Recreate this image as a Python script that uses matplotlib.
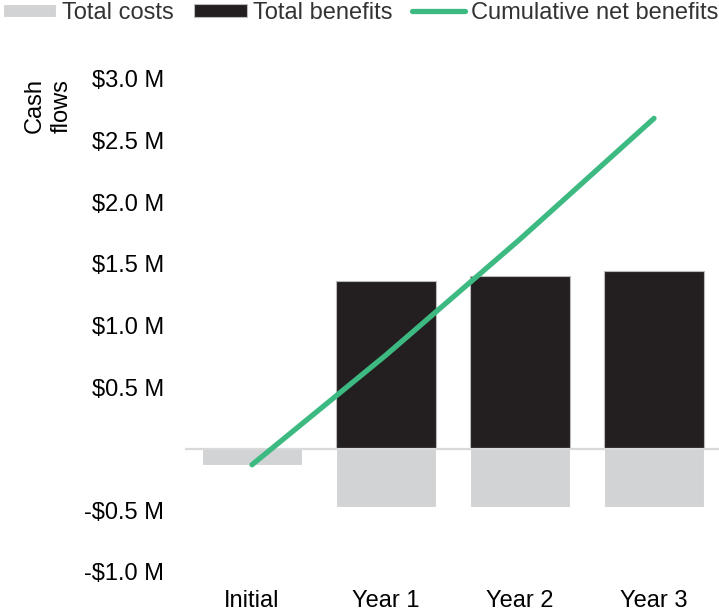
import matplotlib
matplotlib.use("Agg")
import matplotlib.pyplot as plt
from matplotlib.ticker import FuncFormatter

plt.rcParams['font.family'] = ['Liberation Sans', 'DejaVu Sans']

# values (millions of dollars)
periods = ["Initial", "Year 1", "Year 2", "Year 3"]
total_costs = [-0.13, -0.47, -0.47, -0.47]
total_benefits = [0.0, 1.363, 1.40, 1.445]
cumulative_net = [-0.13, 0.76, 1.70, 2.68]
y_ticks = [-1.0, -0.5, 0.0, 0.5, 1.0, 1.5, 2.0, 2.5, 3.0]

cost_color = "#d2d3d5"
benefit_color = "#231f20"
line_color = "#3dba82"

fig = plt.figure(figsize=(7.19, 6.12), dpi=100)
ax = fig.add_axes([0.2573, 0.0654, 0.7455, 0.8056])

x = list(range(len(periods)))
b1 = ax.bar(x, total_costs, width=0.745, color=cost_color, edgecolor="white", linewidth=0.8, label="Total costs", zorder=2)
b2 = ax.bar(x, total_benefits, width=0.745, color=benefit_color, edgecolor="#bbbbbb", linewidth=0.8, label="Total benefits", zorder=2)
l1, = ax.plot(x, cumulative_net, color=line_color, linewidth=3.8, solid_capstyle="round", label="Cumulative net benefits", zorder=4)

ax.axhline(0, color="#d9d9d9", linewidth=1.6, zorder=3)

ax.set_xlim(-0.5, 3.5)
ax.set_ylim(-1.0, 3.0)
ax.set_yticks(y_ticks)
# zero tick label is not shown in the original
def money(v, pos):
    if abs(v) < 1e-9:
        return ""
    if v < 0:
        return f"-${abs(v):.1f} M"
    return f"${v:.1f} M"
ax.yaxis.set_major_formatter(FuncFormatter(money))
ax.set_xticks(x)
ax.set_xticklabels(periods)
ax.tick_params(axis="both", length=0, labelsize=17)
ax.tick_params(axis="y", pad=15)
ax.tick_params(axis="x", pad=13)
for s in ax.spines.values():
    s.set_visible(False)

fig.text(0.067, 0.827, "Cash\nflows", rotation=90, fontsize=17, ha="center", va="center",
         multialignment="center", linespacing=1.25)

leg = fig.legend([b1, b2, l1], ["Total costs", "Total benefits", "Cumulative net benefits"],
                 loc="upper left", bbox_to_anchor=(0.004, 0.997), ncol=3, frameon=False,
                 fontsize=17, handlelength=2.25, handleheight=0.5, handletextpad=0.25,
                 columnspacing=0.85, borderaxespad=0, borderpad=0)
for t in leg.get_texts():
    t.set_color("#333333")

fig.savefig("out.png", dpi=100)
